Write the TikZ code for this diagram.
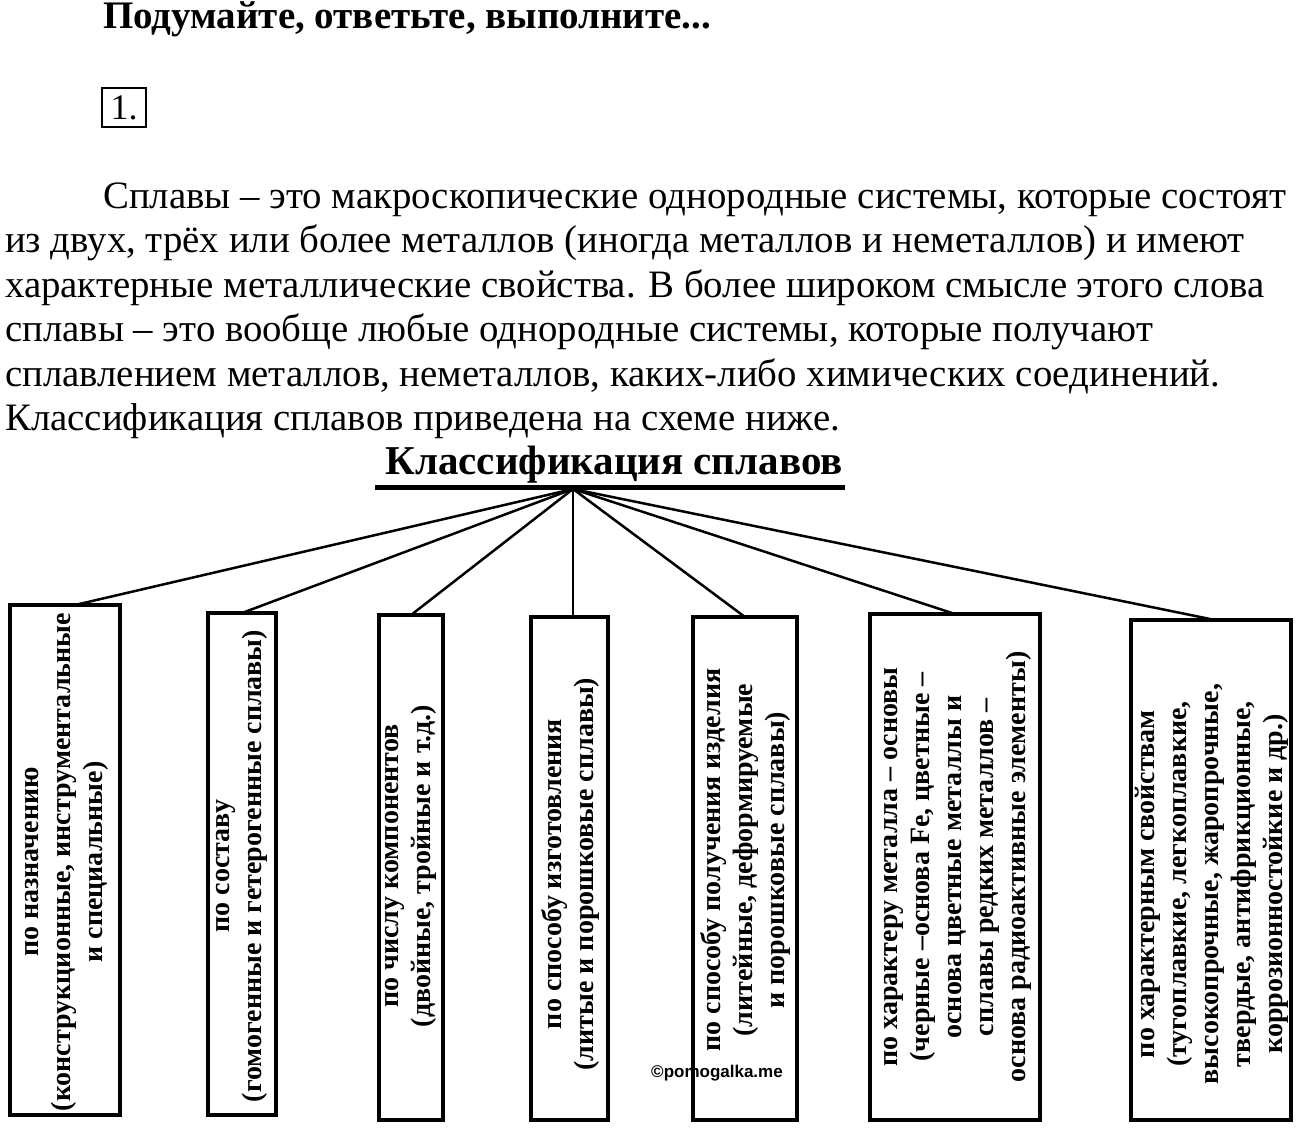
\documentclass[tikz,border=0pt]{standalone}
\usepackage{fontspec}
\setmainfont{Liberation Serif}
\newfontfamily\markfont{Liberation Sans}
\usetikzlibrary{positioning}

\tikzset{
    catbox/.style={draw, line width=4pt, inner sep=0pt, outer sep=0pt},
    vtext/.style={rotate=90, align=center, inner sep=0pt,
        font=\bfseries\fontsize{28}{32}\selectfont},
    para/.style={anchor=base west, inner sep=0pt,
        font=\fontsize{38.8}{44}\selectfont},
    branch/.style={line width=2.5pt}
}

\begin{document}
\begin{tikzpicture}[x=1pt, y=-1pt]
    \useasboundingbox (0,0) rectangle (1299,1129);
    % heading and task number
    \node[anchor=base west, inner sep=0pt, font=\bfseries\fontsize{39}{40}\selectfont]
        (head) at (103,29) {Подумайте, ответьте, выполните...};
    \node[draw, line width=1.5pt, minimum width=44pt, minimum height=39pt,
        inner sep=0pt, font=\fontsize{36}{40}\selectfont] (num) at (124,107.5) {1.};
    % text
    \node[para] (p1) at (103,208) {Сплавы – это макроскопические однородные системы, которые состоят};
    \node[para] (p2) at (5,252.5) {из двух, трёх или более металлов (иногда металлов и неметаллов) и имеют};
    \node[para] (p3) at (5,297) {характерные металлические свойства. В более широком смысле этого слова};
    \node[para] (p4) at (5,341.5) {сплавы – это вообще любые однородные системы, которые получают};
    \node[para] (p5) at (5,386) {сплавлением металлов, неметаллов, каких-либо химических соединений.};
    \node[para] (p6) at (5,430.5) {Классификация сплавов приведена на схеме ниже.};
    % title of the scheme
    \node[anchor=base, inner sep=0pt, font=\bfseries\fontsize{41}{44}\selectfont]
        (title) at (614,474) {Классификация сплавов};
    \draw[line width=5pt] (375,487) -- (845,487);
    \coordinate (apex) at (573,489);
    % boxes
    \node[catbox, minimum width=110pt, minimum height=510pt] (b1) at (65,860) {};
    \node[catbox, minimum width=68pt, minimum height=502pt] (b2) at (242,864) {};
    \node[catbox, minimum width=64pt, minimum height=505pt] (b3) at (411,867.5) {};
    \node[catbox, minimum width=77pt, minimum height=503pt] (b4) at (569.5,868.5) {};
    \node[catbox, minimum width=104pt, minimum height=503pt] (b5) at (745,868.5) {};
    \node[catbox, minimum width=170pt, minimum height=506pt] (b6) at (955,867) {};
    \node[catbox, minimum width=160pt, minimum height=500pt] (b7) at (1211,870) {};
    % texts in the boxes
    \node[vtext] (t1) at (67,862) {по назначению\\(конструкционные, инструментальные\\и специальные)};
    \node[vtext] (t2) at (242,866) {по составу\\(гомогенные и гетерогенные сплавы)};
    \node[vtext] (t3) at (411,866) {по числу компонентов\\(двойные, тройные и т.д.)};
    \node[vtext] (t4) at (570,874) {по способу изготовления\\(литые и порошковые сплавы)};
    \node[vtext] (t5) at (745,860) {по способу получения изделия\\(литейные, деформируемые\\и порошковые сплавы)};
    \node[vtext] (t6) at (958,867) {по характеру металла – основы\\(черные –основа Fe, цветные –\\основа цветные металлы и\\сплавы редких металлов –\\основа радиоактивные элементы)};
    \node[vtext] (t7) at (1212,884) {по характерным свойствам\\(тугоплавкие, легкоплавкие,\\высокопрочные, жаропрочные,\\твердые, антифрикционные,\\коррозионностойкие и др.)};
    % branches
    \draw[branch] (apex) -- ([xshift=10pt]b1.north);
    \draw[branch] (apex) -- (b2.north);
    \draw[branch] (apex) -- (b3.north);
    \draw[branch] (apex) -- (apex |- b4.north);
    \draw[branch] (apex) -- (b5.north);
    \draw[branch] (apex) -- (b6.north);
    \draw[branch] (apex) -- ([xshift=4pt]b7.north);
    % watermark
    \node[inner sep=0pt, font=\markfont\bfseries\fontsize{17}{18}\selectfont]
        (mark) at (717,1073) {©pomogalka.me};
\end{tikzpicture}
\end{document}
